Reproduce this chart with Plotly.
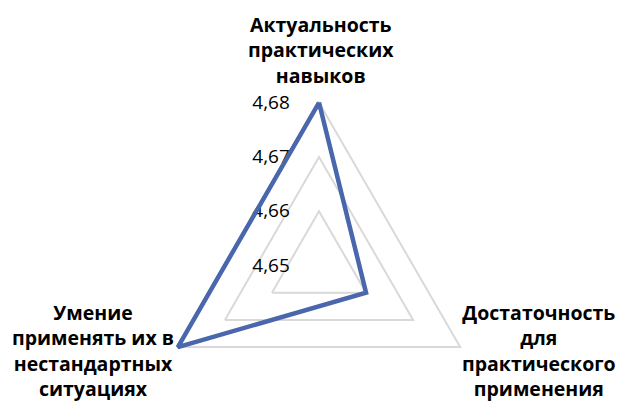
import plotly.graph_objects as go

categories = [
    "Актуальность<br>практических<br>навыков",
    "Достаточность<br>для<br>практического<br>применения",
    "Умение<br>применять их в<br>нестандартных<br>ситуациях",
]
values = [4.68, 4.66, 4.68]
tick_vals = [4.65, 4.66, 4.67, 4.68]
tick_text = ["4,65", "4,66", "4,67", "4,68"]

r_min, r_top = 4.65, 4.68
r_max = 4.681  # small headroom so the outer line is not clipped

W = 623
cx, cy, R = 319, 266, 163          # R = pixel radius of the 4,68 level
Rdom = R * (r_max - r_min) / (r_top - r_min)
H = int(round(cy + Rdom))

fig = go.Figure()
fig.add_trace(go.Scatterpolar(
    r=values + values[:1],
    theta=categories + categories[:1],
    mode="lines",
    line=dict(color="#4A66AC", width=4.5),
    fill="none",
    cliponaxis=False,
    showlegend=False,
))

# category labels as centred multi-line annotations (paper coords, pixel -> fraction)
label_pos = [(321, 50), (539, 350), (93, 350)]
annotations = []
for text, (px, py) in zip(categories, label_pos):
    annotations.append(dict(
        text=text, x=px / W, y=1 - py / H, xref="paper", yref="paper",
        xanchor="center", yanchor="middle", align="center", showarrow=False,
        font=dict(family="Open Sans", size=19.5, color="#000000", weight="bold"),
    ))

fig.update_layout(
    width=W, height=H,
    margin=dict(l=0, r=0, t=0, b=0),
    paper_bgcolor="white",
    plot_bgcolor="white",
    annotations=annotations,
    polar=dict(
        domain=dict(x=[(cx - Rdom) / W, (cx + Rdom) / W], y=[0, (2 * Rdom) / H]),
        bgcolor="white",
        gridshape="linear",
        radialaxis=dict(
            range=[r_min, r_max],
            tickvals=tick_vals,
            ticktext=tick_text,
            angle=90,
            side="counterclockwise",
            tickangle=90,
            showline=False,
            ticks="outside",
            ticklen=22,
            tickcolor="rgba(0,0,0,0)",
            gridcolor="#D9D9D9",
            gridwidth=1.5,
            layer="below traces",
            tickfont=dict(family="Open Sans", size=19, color="#000000"),
        ),
        angularaxis=dict(
            rotation=90,
            direction="clockwise",
            showgrid=False,
            showline=False,
            ticks="",
            layer="below traces",
            showticklabels=False,
        ),
    ),
)

fig.write_html(
    "out.html",
    config={"displayModeBar": False},
    post_script="document.body.style.margin='0';document.body.style.overflow='hidden';document.documentElement.style.overflow='hidden';",
)
